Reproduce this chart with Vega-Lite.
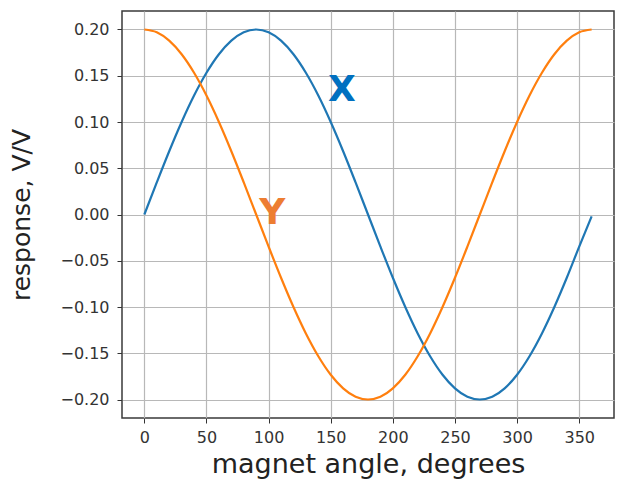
{
  "$schema": "https://vega.github.io/schema/vega-lite/v6.json",
  "width": 492,
  "height": 407,
  "autosize": {"type": "none"},
  "padding": {"left": 122, "top": 11, "right": 6, "bottom": 61},
  "background": "white",
  "config": {
    "font": "DejaVu Sans",
    "view": {"stroke": "#3a3a3a", "strokeWidth": 1.5},
    "axis": {
      "domain": false,
      "grid": true,
      "gridColor": "#b8b8b8",
      "gridWidth": 1.2,
      "tickColor": "#333333",
      "tickSize": 5,
      "tickWidth": 1,
      "labelFont": "DejaVu Sans",
      "labelFontSize": 16,
      "labelColor": "#333333",
      "titleFont": "DejaVu Sans",
      "titleFontWeight": "normal",
      "titleColor": "#222222"
    }
  },
  "datasets": {
    "curves": [
      {"a": 0, "X": 0, "Y": 0.2},
      {"a": 10, "X": 0.0347, "Y": 0.197},
      {"a": 20, "X": 0.0684, "Y": 0.1879},
      {"a": 30, "X": 0.1, "Y": 0.1732},
      {"a": 40, "X": 0.1286, "Y": 0.1532},
      {"a": 50, "X": 0.1532, "Y": 0.1286},
      {"a": 60, "X": 0.1732, "Y": 0.1},
      {"a": 70, "X": 0.1879, "Y": 0.0684},
      {"a": 80, "X": 0.197, "Y": 0.0347},
      {"a": 90, "X": 0.2, "Y": 0},
      {"a": 100, "X": 0.197, "Y": -0.0347},
      {"a": 110, "X": 0.1879, "Y": -0.0684},
      {"a": 120, "X": 0.1732, "Y": -0.1},
      {"a": 130, "X": 0.1532, "Y": -0.1286},
      {"a": 140, "X": 0.1286, "Y": -0.1532},
      {"a": 150, "X": 0.1, "Y": -0.1732},
      {"a": 160, "X": 0.0684, "Y": -0.1879},
      {"a": 170, "X": 0.0347, "Y": -0.197},
      {"a": 180, "X": 0, "Y": -0.2},
      {"a": 190, "X": -0.0347, "Y": -0.197},
      {"a": 200, "X": -0.0684, "Y": -0.1879},
      {"a": 210, "X": -0.1, "Y": -0.1732},
      {"a": 220, "X": -0.1286, "Y": -0.1532},
      {"a": 230, "X": -0.1532, "Y": -0.1286},
      {"a": 240, "X": -0.1732, "Y": -0.1},
      {"a": 250, "X": -0.1879, "Y": -0.0684},
      {"a": 260, "X": -0.197, "Y": -0.0347},
      {"a": 270, "X": -0.2, "Y": 0},
      {"a": 280, "X": -0.197, "Y": 0.0347},
      {"a": 290, "X": -0.1879, "Y": 0.0684},
      {"a": 300, "X": -0.1732, "Y": 0.1},
      {"a": 310, "X": -0.1532, "Y": 0.1286},
      {"a": 320, "X": -0.1286, "Y": 0.1532},
      {"a": 330, "X": -0.1, "Y": 0.1732},
      {"a": 340, "X": -0.0684, "Y": 0.1879},
      {"a": 350, "X": -0.0347, "Y": 0.197},
      {"a": 360, "X": -0.002, "Y": 0.2}
    ],
    "labels": [
      {"a": 159, "v": 0.135, "t": "X"},
      {"a": 103, "v": 0.0015, "t": "Y"}
    ]
  },
  "layer": [
    {
      "data": {"name": "curves"},
      "transform": [{"fold": ["X", "Y"], "as": ["series", "v"]}],
      "mark": {"type": "line", "strokeWidth": 2.2, "interpolate": "monotone"},
      "encoding": {
        "x": {
          "field": "a",
          "type": "quantitative",
          "scale": {"domain": [-18, 378], "nice": false, "zero": false},
          "axis": {
            "values": [0, 50, 100, 150, 200, 250, 300, 350],
            "title": "magnet angle, degrees",
            "titleFontSize": 27,
            "titlePadding": 6,
            "labelPadding": 6
          }
        },
        "y": {
          "field": "v",
          "type": "quantitative",
          "scale": {"domain": [-0.22, 0.22], "nice": false},
          "axis": {
            "values": [-0.2, -0.15, -0.1, -0.05, 0, 0.05, 0.1, 0.15, 0.2],
            "format": ".2f",
            "title": "response, V/V",
            "titleFontSize": 25,
            "titlePadding": 25,
            "labelPadding": 8
          }
        },
        "color": {
          "field": "series",
          "type": "nominal",
          "scale": {"domain": ["X", "Y"], "range": ["#1f77b4", "#ff7f0e"]},
          "legend": null
        }
      }
    },
    {
      "data": {"name": "labels"},
      "mark": {"type": "text", "fontWeight": "bold", "fontSize": 36, "font": "DejaVu Sans", "align": "center", "baseline": "middle"},
      "encoding": {
        "x": {"field": "a", "type": "quantitative"},
        "y": {"field": "v", "type": "quantitative"},
        "text": {"field": "t"},
        "color": {
          "field": "t",
          "type": "nominal",
          "scale": {"domain": ["X", "Y"], "range": ["#0070c0", "#ed7d31"]},
          "legend": null
        }
      }
    }
  ],
  "resolve": {"scale": {"color": "independent"}}
}
